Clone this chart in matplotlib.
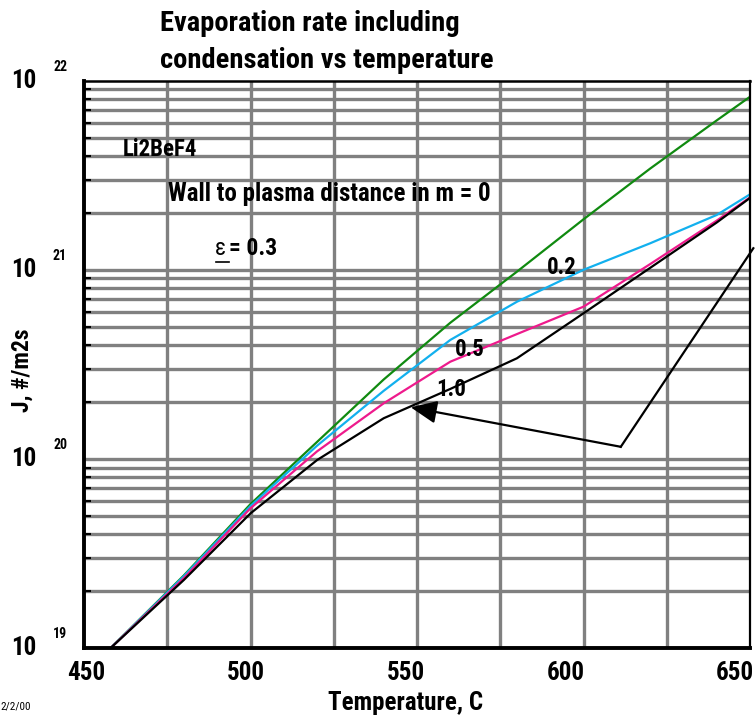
import numpy as np
import matplotlib
matplotlib.use("Agg")
import matplotlib.pyplot as plt
from matplotlib import font_manager
from matplotlib.transforms import blended_transform_factory

_avail = {f.name for f in font_manager.fontManager.ttflist}
_cands = ['Liberation Sans Narrow', 'Roboto Condensed', 'DejaVu Sans Condensed',
          'Noto Sans Condensed', 'Open Sans Condensed', 'Arial Narrow']
_narrow = [c for c in _cands if c in _avail]
NARROW = _narrow[0] if _narrow else None
plt.rcParams['font.family'] = ([NARROW] if NARROW else []) + ['Liberation Sans', 'DejaVu Sans']
K = 1.0 if NARROW else 0.86  # shrink sizes if no narrow font

# ---- data (log10 of J) ----
temps = [458, 480, 500, 520, 540, 560, 580, 600, 620, 640, 650]
log_d0   = [19.0, 19.384, 19.761, 20.09, 20.42, 20.72, 20.99, 21.267, 21.535, 21.79, 21.915]
log_d02  = [19.0, 19.38, 19.751, 20.07, 20.36, 20.629, 20.831, 21.0, 21.14, 21.29, 21.399]
log_d05  = [19.0, 19.37, 19.739, 20.04, 20.294, 20.514, 20.66, 20.805, 21.03, 21.26, 21.383]
log_d10  = [19.0, 19.36, 19.712, 19.994, 20.215, 20.37, 20.532, 20.77, 21.01, 21.25, 21.38]
series_colors = ['#108a10', '#12b0ee', '#ee1a8c', '#000000']
curve_labels = ['0.2', '0.5', '1.0']
label_pos_T = [593.4, 565.7, 560.1]
label_pos_logJ = [21.013, 20.576, 20.368]

# annotation polyline (data coords)
ann_T = [651.0, 611.2, 548.1]
ann_logJ = [21.114, 20.064, 20.273]

x_ticks = [450, 500, 550, 600, 650]
x_tick_px = [86, 246, 406, 566, 735]
decades = [19, 20, 21, 22]

L, R, T, B = 84, 750, 80.7, 648
fig = plt.figure(figsize=(7.55, 7.2), dpi=100)
ax = fig.add_axes([L/755, 1-B/720, (R-L)/755, (B-T)/720])
ax.set_yscale('log')
ax.set_xlim(450, 650)
ax.set_ylim(1e19, 1e22)

# grid
grid_c = '#808080'
for xv in np.arange(475, 650, 25):
    ax.axvline(xv, color=grid_c, lw=2.4, zorder=1)
for d in range(19, 22):
    for m in range(1, 10):
        v = m * 10.0**d
        if v > 1e19:
            ax.axhline(v, color=grid_c, lw=2.4, zorder=1)

for ys, c in zip([log_d0, log_d02, log_d05, log_d10], series_colors):
    ax.plot(temps, 10**np.array(ys), color=c, lw=1.6, zorder=3)

for lab, t, lj in zip(curve_labels, label_pos_T, label_pos_logJ):
    ax.text(t, 10**lj, lab, fontsize=16.5*K, fontweight='bold', ha='center', va='center', zorder=5)

# annotation
ax.plot(ann_T[:2], [10**v for v in ann_logJ[:2]], color='black', lw=1.6, zorder=4, clip_on=False)
ax.annotate('', xy=(ann_T[2], 10**ann_logJ[2]), xytext=(ann_T[1], 10**ann_logJ[1]),
            arrowprops=dict(arrowstyle='-|>,head_length=1.6,head_width=0.7', color='black', lw=1.6,
                            shrinkA=0, shrinkB=0), zorder=4)

# texts inside
def px(x, y):
    return x/755, 1-y/720

fig.text(*px(123, 150), 'Li2BeF4', fontsize=16.5*K, fontweight='bold', va='center', ha='left')
fig.text(*px(168, 193.5), 'Wall to plasma distance in m = 0', fontsize=18*K, fontweight='bold', va='center', ha='left')
fig.text(*px(215, 248.5), 'ε', fontsize=17*K, va='center', ha='left')
fig.text(*px(229, 248.5), '= 0.3', fontsize=17*K, fontweight='bold', va='center', ha='left')
fig.add_artist(plt.Line2D([216/755, 229/755], [1-262/720, 1-262/720], color='black', lw=1.2))

# frame drawn explicitly at figure level
for s in ax.spines.values():
    s.set_visible(False)
frame = [((L, L), (T, B), 2.8), ((L, R), (B, B), 2.8), ((L, R), (T, T), 1.8), ((R, R), (T, B), 1.6)]
for xs, ys, lw in frame:
    fig.add_artist(plt.Line2D([x/755 for x in xs], [1 - y/720 for y in ys], color='black', lw=lw,
                              solid_capstyle='projecting', zorder=20))

# ticks
ax.set_xticks(x_ticks)
ax.set_xticklabels([])
ax.tick_params(axis='x', length=0)
for v, xp in zip(x_ticks, x_tick_px):
    fig.text(*px(xp, 673), str(v), fontsize=18*K, fontweight='bold', ha='center', va='center')
ax.set_yticks([10.0**d for d in decades])
ax.set_yticklabels([])
ax.tick_params(axis='y', which='both', direction='in', length=5, width=1.5, left=True, right=False)
ax.tick_params(axis='y', which='major', length=0)
ax.yaxis.set_minor_locator(matplotlib.ticker.LogLocator(subs=np.arange(2, 10)))
ax.yaxis.set_minor_formatter(matplotlib.ticker.NullFormatter())

tr = blended_transform_factory(fig.transFigure, ax.transData)
for d in decades:
    ax.text(24/755, 10.0**d, '10', transform=tr, fontsize=18*K, fontweight='bold', ha='center', va='center')
    ax.text(60/755, 10.0**(d + 0.075), str(d), transform=tr, fontsize=10*K, fontweight='bold', ha='center', va='center')

fig.text(*px(406, 703), 'Temperature, C', fontsize=18*K, fontweight='bold', ha='center', va='center')
fig.text(*px(22, 370), 'J, #/m2s', fontsize=17*K, fontweight='bold', ha='center', va='center', rotation=90)
fig.text(*px(0, 706), '2/2/00', fontsize=8, ha='left', va='center')
fig.text(*px(160, 42), 'Evaporation rate including\ncondensation vs temperature',
         fontsize=20.5*K, fontweight='bold', ha='left', va='center', linespacing=1.5)

fig.savefig('out.png', dpi=100)
